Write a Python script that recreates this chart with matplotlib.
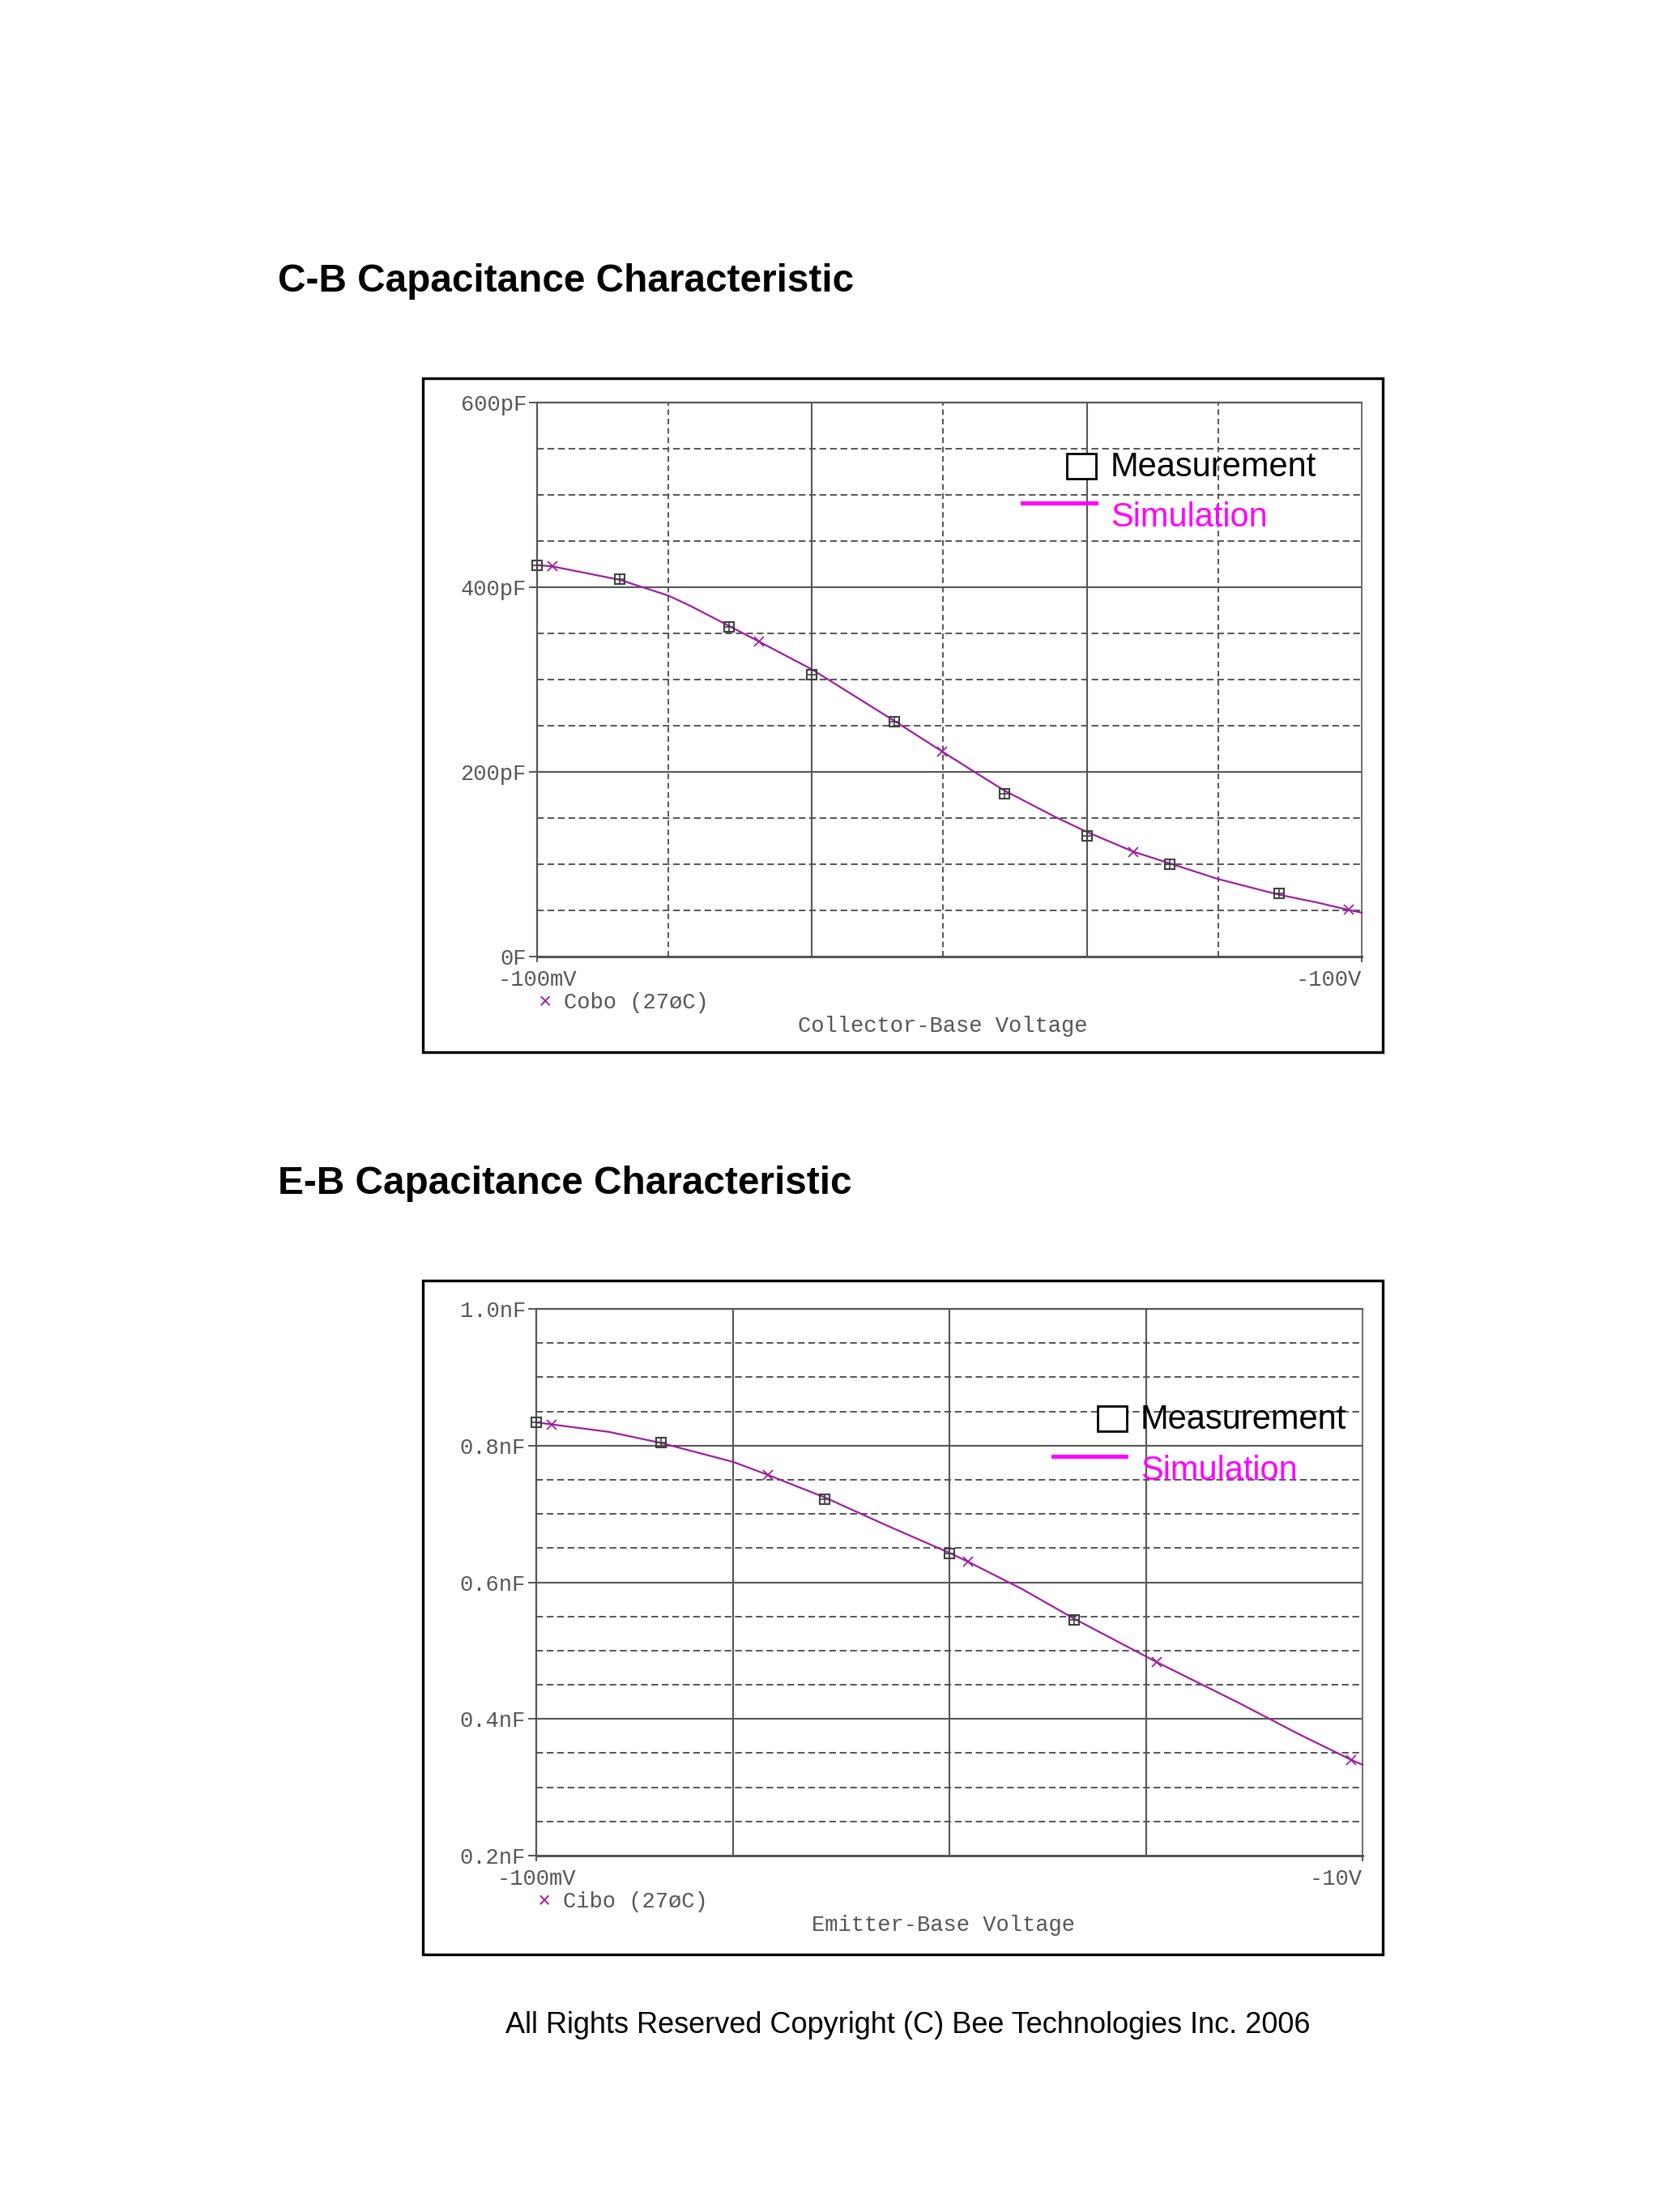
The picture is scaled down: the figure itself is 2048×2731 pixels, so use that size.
import matplotlib
matplotlib.use("Agg")
import matplotlib.pyplot as plt
from matplotlib.patches import Rectangle
from matplotlib.lines import Line2D

# ---------------- data ----------------
# C-B capacitance (Cobo) vs |Vcb| [V], capacitance [pF]
cb_meas_v = [0.1, 0.2, 0.5, 1, 2, 5, 10, 20, 50]
cb_meas_c = [424, 409, 357, 305, 254, 176, 131, 100, 68]
cb_sim_v = [0.1, 0.114, 0.2, 0.3, 0.36, 0.5, 0.643, 1, 2, 2.98, 3.9, 5, 7.7,
            10, 14.8, 20, 30, 50, 69, 89.6, 100]
cb_sim_c = [424, 422.5, 408, 391, 380, 358, 341, 311, 255, 222, 200, 180, 151,
            135, 113.5, 101, 84, 67, 58.5, 50.5, 47.5]
cb_sim_marks = [1, 6, 9, 14, 19]
cb_yticks = [0, 200, 400, 600]
cb_yticklabels = ["0F", "200pF", "400pF", "600pF"]
cb_yminor = [50, 100, 150, 250, 300, 350, 450, 500, 550]
cb_vsolid = [1, 10]
cb_vdashed = [0.3, 3, 30]
cb_xticks = [0.1, 100]
cb_xticklabels = ["-100mV", "-100V"]

# E-B capacitance (Cibo) vs |Veb| [V], capacitance [nF]
eb_meas_v = [0.1, 0.2, 0.5, 1, 2]
eb_meas_c = [0.834, 0.805, 0.722, 0.642, 0.545]
eb_sim_v = [0.1, 0.109, 0.15, 0.2, 0.3, 0.364, 0.5, 0.7, 1, 1.11, 1.5, 2, 3,
            3.18, 5, 7, 9.4, 10]
eb_sim_c = [0.834, 0.831, 0.820, 0.804, 0.776, 0.757, 0.724, 0.684, 0.643,
            0.630, 0.590, 0.547, 0.491, 0.483, 0.424, 0.378, 0.340, 0.333]
eb_sim_marks = [1, 5, 9, 13, 16]
eb_yticks = [0.2, 0.4, 0.6, 0.8, 1.0]
eb_yticklabels = ["0.2nF", "0.4nF", "0.6nF", "0.8nF", "1.0nF"]
eb_yminor = [0.25, 0.3, 0.35, 0.45, 0.5, 0.55, 0.65, 0.7, 0.75, 0.85, 0.9, 0.95]
eb_vsolid = [0.3, 1, 3]
eb_vdashed = []
eb_xticks = [0.1, 10]
eb_xticklabels = ["-100mV", "-10V"]

# ---------------- style ----------------
W, H = 2048, 2731
GRID = "#555555"
CURVE = "#A01EA0"
SQUARE = "#404040"
MONO = ["Liberation Mono", "DejaVu Sans Mono"]
SANS = ["Liberation Sans", "DejaVu Sans"]
MFS = 19.5
plt.rcParams["lines.scale_dashes"] = False

fig = plt.figure(figsize=(W / 100, H / 100), dpi=100)
fig.patch.set_facecolor("white")


def fx(px):
    return px / W


def fy(py):
    return 1 - py / H


def make_panel(box, area, ylim, xlim, yticks, yticklabels, yminor, vsolid,
               vdashed, xticks, xticklabels, meas_v, meas_c, sim_v, sim_c,
               marks, leg_name, xlabel, legend_pos):
    # outer black box
    bx0, by0, bx1, by1 = box
    fig.patches.append(Rectangle((fx(bx0), fy(by1)), fx(bx1) - fx(bx0),
                                 fy(by0) - fy(by1), transform=fig.transFigure,
                                 fill=False, edgecolor="black", linewidth=2.4,
                                 zorder=0))
    x0, y0, x1, y1 = area
    ax = fig.add_axes([fx(x0), fy(y1), fx(x1) - fx(x0), fy(y0) - fy(y1)])
    ax.set_xscale("log")
    ax.set_xlim(*xlim)
    ax.set_ylim(*ylim)
    ax.set_facecolor("white")

    # grid
    for yv in yticks[1:-1]:
        ax.axhline(yv, color=GRID, lw=1.5, zorder=1)
    for yv in yminor:
        ax.axhline(yv, color=GRID, lw=1.4, ls=(0, (6, 3.3)), zorder=1)
    for xv in vsolid:
        ax.axvline(xv, color=GRID, lw=1.5, zorder=1)
    for xv in vdashed:
        ax.axvline(xv, color=GRID, lw=1.4, ls=(0, (5, 3.3)), zorder=1)

    for side, lw in (("left", 1.6), ("bottom", 2.2), ("top", 1.6), ("right", 1.2)):
        ax.spines[side].set_color(GRID)
        ax.spines[side].set_linewidth(lw)

    ax.set_yticks(yticks)
    ax.set_yticklabels(yticklabels, family=MONO, fontsize=MFS, color=GRID)
    ax.set_yticks([], minor=True)
    ax.set_xticks(xticks)
    ax.set_xticklabels(xticklabels, family=MONO, fontsize=MFS, color=GRID)
    ax.set_xticks([], minor=True)
    ax.tick_params(axis="y", which="major", length=7, width=1.4, color=GRID,
                   pad=2.5)
    ax.tick_params(axis="x", which="major", length=5, width=1.4, color=GRID,
                   pad=6.5)
    xl = ax.get_xticklabels()
    xl[0].set_ha("center")
    xl[-1].set_ha("right")

    # simulation curve
    ax.plot(sim_v, sim_c, color=CURVE, lw=1.6, marker="x", markevery=marks,
            markersize=8, markeredgewidth=1.3, zorder=3, clip_on=False)
    # measurement squares with cross inside
    ax.plot(meas_v, meas_c, ls="none", marker="s", markersize=8,
            markerfacecolor="none", markeredgecolor=SQUARE,
            markeredgewidth=1.5, zorder=4, clip_on=False)
    ax.plot(meas_v, meas_c, ls="none", marker="+", markersize=8,
            markeredgecolor=SQUARE, markeredgewidth=1.2, zorder=4,
            clip_on=False)

    # PSpice-style trace legend and axis title
    fig.text(fx(x0 + 10), fy(y1 + 57), "\u00d7", color=CURVE, fontsize=MFS,
             family=MONO, ha="center", va="center")
    fig.text(fx(x0 + 33), fy(y1 + 57), leg_name, color=GRID, fontsize=MFS,
             family=MONO, ha="left", va="center")
    fig.text(fx((x0 + x1) / 2 - 8), fy(y1 + 86), xlabel, color=GRID,
             fontsize=MFS, family=MONO, ha="center", va="center")

    # Measurement / Simulation legend
    sq_x0, sq_y0, sq_x1, sq_y1, ln_x0, ln_x1, ln_y, tx, ty1, ty2 = legend_pos
    fig.patches.append(Rectangle((fx(sq_x0), fy(sq_y1)), fx(sq_x1) - fx(sq_x0),
                                 fy(sq_y0) - fy(sq_y1), transform=fig.transFigure,
                                 fill=True, facecolor="white",
                                 edgecolor="black", linewidth=2.0, zorder=5))
    fig.lines.append(Line2D([fx(ln_x0), fx(ln_x1)], [fy(ln_y), fy(ln_y)],
                            transform=fig.transFigure, color="#FF00FF",
                            lw=3.6, zorder=5))
    fig.text(fx(tx), fy(ty1), "Measurement", color="black", fontsize=30,
             family=SANS, ha="left", va="center", zorder=6)
    fig.text(fx(tx), fy(ty2), "Simulation", color="#FF00FF", fontsize=30,
             family=SANS, ha="left", va="center", zorder=6)
    return ax


make_panel(box=(522, 467, 1707, 1299), area=(663, 497, 1681, 1181),
           ylim=(0, 600), xlim=(0.1, 100), yticks=cb_yticks,
           yticklabels=cb_yticklabels, yminor=cb_yminor, vsolid=cb_vsolid,
           vdashed=cb_vdashed, xticks=cb_xticks, xticklabels=cb_xticklabels,
           meas_v=cb_meas_v, meas_c=cb_meas_c, sim_v=cb_sim_v, sim_c=cb_sim_c,
           marks=cb_sim_marks, leg_name="Cobo (27\u00f8C)",
           xlabel="Collector-Base Voltage",
           legend_pos=(1317, 560, 1353, 591, 1262, 1353, 621, 1371, 577, 639))

make_panel(box=(522, 1581, 1707, 2413), area=(662, 1616, 1682, 2291),
           ylim=(0.2, 1.0), xlim=(0.1, 10), yticks=eb_yticks,
           yticklabels=eb_yticklabels, yminor=eb_yminor, vsolid=eb_vsolid,
           vdashed=eb_vdashed, xticks=eb_xticks, xticklabels=eb_xticklabels,
           meas_v=eb_meas_v, meas_c=eb_meas_c, sim_v=eb_sim_v, sim_c=eb_sim_c,
           marks=eb_sim_marks, leg_name="Cibo (27\u00f8C)",
           xlabel="Emitter-Base Voltage",
           legend_pos=(1355, 1736, 1391, 1767, 1300, 1390, 1798, 1408, 1753, 1816))

# titles and footer
fig.text(fx(343), fy(348), "C-B Capacitance Characteristic", fontsize=34.4,
         fontweight="bold", family=SANS, ha="left", va="center")
fig.text(fx(343), fy(1462), "E-B Capacitance Characteristic", fontsize=34.4,
         fontweight="bold", family=SANS, ha="left", va="center")
fig.text(fx(1121), fy(2500),
         "All Rights Reserved Copyright (C) Bee Technologies Inc. 2006",
         fontsize=26, family=SANS, ha="center", va="center")

fig.savefig("out.png", dpi=100, facecolor="white")
